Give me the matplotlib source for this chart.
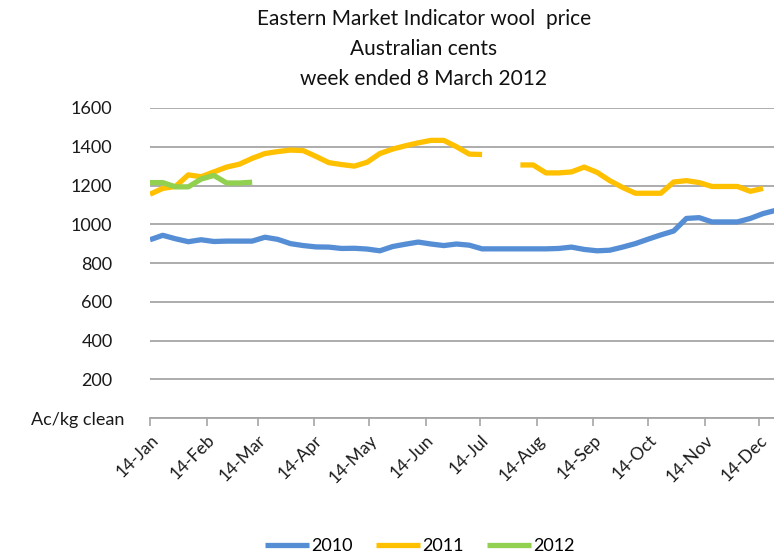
import numpy as np
import pandas as pd
import matplotlib
matplotlib.use("Agg")
import matplotlib.pyplot as plt
import matplotlib.dates as mdates
import matplotlib.transforms as mtransforms

plt.rcParams['font.family'] = ['Lato', 'DejaVu Sans']

# weekly sale dates (plotted on one common calendar year)
weeks = pd.date_range("2011-01-14", periods=50, freq="7D")

# Eastern Market Indicator, Ac/kg clean
emi_2010 = [920, 943, 925, 910, 920, 911, 913, 913, 913, 933,
            922, 900, 890, 883, 882, 875, 876, 872, 863, 885,
            897, 908, 898, 890, 898, 892, 873, 873, 873, 873,
            873, 873, 875, 882, 870, 863, 866, 882, 900, 923,
            945, 965, 1030, 1034, 1012, 1012, 1012, 1030, 1055, 1072]
emi_2011 = [1155, 1185, 1195, 1255, 1245, 1270, 1295, 1310, 1340, 1365,
            1375, 1383, 1380, 1350, 1318, 1308, 1300, 1320, 1365, 1388,
            1405, 1420, 1433, 1433, 1400, 1362, 1360, np.nan, np.nan, 1306,
            1306, 1265, 1265, 1270, 1295, 1268, 1225, 1190, 1160, 1160,
            1160, 1218, 1225, 1215, 1195, 1195, 1195, 1170, 1185, np.nan]
emi_2012 = [1215, 1215, 1193, 1193, 1233, 1252, 1213, 1213, 1217]

years = ["2010", "2011", "2012"]
colors = ["#558ED5", "#FFC000", "#92D050"]

fig = plt.figure(figsize=(7.74, 5.56), dpi=100)
ax = fig.add_axes([150 / 774, 1 - 418 / 556, 1 - 150 / 774, (418 - 108) / 556])

ax.plot(weeks, emi_2010, color=colors[0], lw=3.8, solid_capstyle='butt', label=years[0])
ax.plot(weeks, emi_2011, color=colors[1], lw=3.8, solid_capstyle='butt', label=years[1])
ax.plot(weeks[:len(emi_2012)], emi_2012, color=colors[2], lw=3.8,
        solid_capstyle='butt', label=years[2])

ax.set_xlim(pd.Timestamp("2011-01-14"), pd.Timestamp("2011-12-22"))
ax.set_ylim(0, 1600)

yt = np.arange(0, 1601, 200)
ax.set_yticks(yt)
ax.set_yticklabels(["Ac/kg clean"] + [str(v) for v in yt[1:]])
ax.tick_params(axis='y', length=0, pad=27, labelsize=13, labelcolor='#1a1a1a')
# the unit label sits a little further right than the numbers
lbl0 = ax.get_yticklabels()[0]
lbl0.set_transform(lbl0.get_transform() + mtransforms.ScaledTranslation(12 / 100, 0, fig.dpi_scale_trans))

xt = pd.date_range("2011-01-14", periods=12, freq=pd.DateOffset(months=1))
ax.set_xticks(xt)
ax.xaxis.set_major_formatter(mdates.DateFormatter("%-d-%b"))
ax.tick_params(axis='x', length=6, width=1.2, color='#A6A6A6', labelsize=12.5,
               labelcolor='#1a1a1a', pad=4)
for lbl in ax.get_xticklabels():
    lbl.set_rotation(45)
    lbl.set_ha('right')
    lbl.set_rotation_mode('anchor')

ax.grid(axis='y', color='#A6A6A6', lw=1.3)
ax.set_axisbelow(True)
for s in ['top', 'right', 'left']:
    ax.spines[s].set_visible(False)
ax.spines['bottom'].set_color('#A6A6A6')
ax.spines['bottom'].set_linewidth(1.3)

fig.text(424 / 774, 1 - 19 / 556, "Eastern Market Indicator wool  price",
         ha='center', va='center', fontsize=15, color='#111111')
fig.text(424 / 774, 1 - 49 / 556, "Australian cents",
         ha='center', va='center', fontsize=15, color='#111111')
fig.text(424 / 774, 1 - 79 / 556, "week ended 8 March 2012",
         ha='center', va='center', fontsize=15, color='#111111')

fig.legend(loc='center', bbox_to_anchor=(420 / 774, 1 - 546 / 556), ncol=3,
           frameon=False, fontsize=13, handlelength=2.4, columnspacing=1.3,
           handletextpad=0.15)

fig.savefig("out.png", dpi=100)
